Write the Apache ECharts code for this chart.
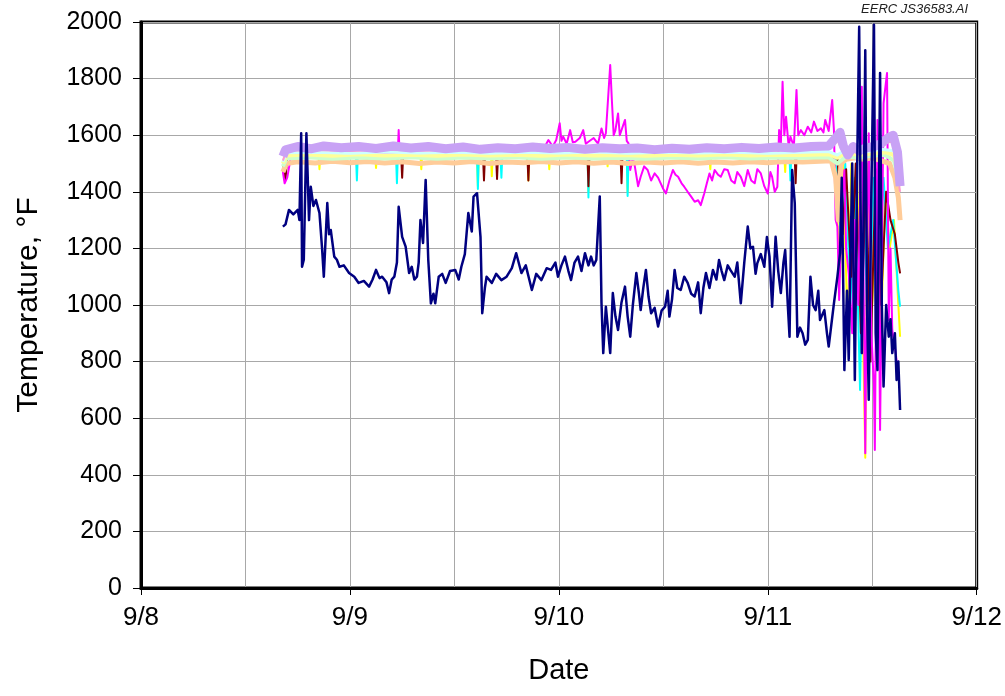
<!DOCTYPE html>
<html>
<head>
<meta charset="utf-8">
<script src="https://cdn.jsdelivr.net/npm/echarts@6/dist/echarts.min.js"></script>
<style>
html,body{margin:0;padding:0;background:#fff;}
#chart{width:1005px;height:696px;}
</style>
</head>
<body>
<div id="chart"></div>
<script>
// x values: hours since 9/8 00:00
const dayLabels = ['9/8', '9/9', '9/10', '9/11', '9/12'];
const yTicks = [0, 200, 400, 600, 800, 1000, 1200, 1400, 1600, 1800, 2000];

const navy = [[16.3,1277],[16.6,1285],[17.0,1336],[17.5,1320],[18.0,1336],[18.2,1300],[18.4,1607],[18.5,1135],[18.7,1160],[19.0,1607],[19.3,1300],[19.5,1418],[19.8,1350],[20.1,1371],[20.5,1325],[20.8,1200],[21.0,1100],[21.4,1360],[21.6,1250],[21.8,1265],[22.2,1171],[22.5,1160],[22.8,1135],[23.3,1140],[23.9,1113],[24.5,1100],[25.0,1078],[25.6,1085],[26.2,1065],[26.6,1090],[27.0,1124],[27.4,1095],[27.7,1100],[28.2,1080],[28.5,1042],[28.8,1090],[29.1,1100],[29.4,1150],[29.6,1347],[30.0,1241],[30.4,1206],[30.8,1113],[31.1,1135],[31.4,1090],[31.7,1100],[31.9,1150],[32.1,1300],[32.4,1219],[32.7,1442],[33.0,1159],[33.3,1006],[33.6,1040],[33.8,1006],[34.2,1100],[34.6,1110],[35.0,1078],[35.5,1120],[36.1,1124],[36.5,1090],[36.8,1135],[37.2,1180],[37.6,1325],[38.0,1260],[38.2,1383],[38.6,1395],[39.0,1241],[39.2,971],[39.5,1060],[39.7,1100],[40.3,1078],[40.8,1110],[41.4,1088],[42.0,1100],[42.6,1130],[43.1,1183],[43.7,1113],[44.2,1140],[44.9,1053],[45.4,1110],[46.0,1088],[46.6,1130],[47.1,1124],[47.6,1150],[47.9,1100],[48.3,1140],[48.7,1171],[49.1,1120],[49.4,1088],[49.8,1150],[50.2,1171],[50.6,1120],[51.0,1183],[51.4,1140],[51.7,1171],[52.0,1140],[52.3,1159],[52.7,1383],[52.9,1006],[53.1,830],[53.4,994],[53.9,830],[54.2,1042],[54.5,960],[54.8,912],[55.2,1010],[55.6,1065],[55.9,960],[56.2,888],[56.5,1000],[56.9,1113],[57.2,1040],[57.4,982],[57.7,1060],[58.0,1124],[58.3,1030],[58.6,971],[59.0,990],[59.4,924],[59.8,980],[60.2,994],[60.5,1050],[60.7,959],[61.0,1020],[61.3,1124],[61.6,1060],[62.0,1053],[62.4,1100],[62.8,1078],[63.2,1040],[63.6,1030],[64.0,1080],[64.3,971],[64.6,1060],[64.9,1113],[65.3,1060],[65.7,1124],[66.1,1090],[66.4,1159],[66.7,1120],[67.0,1088],[67.4,1140],[67.7,1124],[68.2,1100],[68.5,1150],[68.9,1006],[69.3,1150],[69.7,1277],[70.0,1200],[70.3,1206],[70.6,1110],[70.8,1148],[71.2,1180],[71.6,1135],[71.9,1240],[72.2,1171],[72.5,994],[72.9,1241],[73.2,1120],[73.5,1042],[73.8,1150],[74.0,1194],[74.3,1000],[74.5,888],[74.8,1477],[75.1,1360],[75.4,888],[75.7,920],[76.0,900],[76.3,860],[76.6,877],[76.9,1100],[77.2,1000],[77.5,982],[77.8,1050],[78.0,947],[78.5,982],[78.8,900],[79.0,853],[79.3,930],[79.6,1006],[80.0,1100],[80.3,1183],[80.5,1450],[80.8,770],[81.1,1050],[81.3,806],[81.7,1500],[82.0,735],[82.3,1560],[82.5,1983],[82.8,830],[83.0,1300],[83.2,1900],[83.4,1000],[83.6,665],[83.9,1400],[84.2,1990],[84.4,900],[84.6,770],[84.8,1500],[84.9,1820],[85.1,1000],[85.3,712],[85.6,1000],[85.9,888],[86.1,950],[86.3,830],[86.6,900],[86.8,735],[87.0,800],[87.2,629]];

const magenta = [[16.3,1470],[16.5,1430],[16.8,1450],[17.2,1520],[18.0,1535],[22.0,1538],[26.0,1534],[29.5,1538],[29.6,1618],[29.7,1538],[34.0,1536],[38.0,1538],[42.0,1535],[46.0,1537],[46.8,1583],[47.3,1560],[47.7,1583],[48.1,1642],[48.3,1580],[48.5,1595],[48.9,1570],[49.3,1618],[49.6,1575],[49.9,1577],[50.4,1590],[50.8,1618],[51.1,1570],[51.4,1577],[52.0,1590],[52.5,1570],[52.9,1624],[53.2,1590],[53.4,1607],[53.9,1848],[54.1,1718],[54.3,1600],[54.5,1618],[54.8,1677],[55.0,1600],[55.2,1607],[55.6,1654],[55.8,1580],[56.0,1571],[56.2,1477],[56.5,1520],[56.7,1495],[57.1,1420],[57.4,1453],[57.8,1490],[58.2,1477],[58.6,1440],[59.0,1465],[59.4,1450],[59.7,1430],[60.0,1410],[60.3,1394],[60.7,1440],[61.1,1477],[61.4,1460],[61.7,1453],[62.1,1430],[62.4,1418],[62.8,1400],[63.2,1383],[63.6,1365],[64.0,1370],[64.3,1353],[64.7,1394],[65.0,1430],[65.3,1465],[65.6,1440],[65.9,1477],[66.3,1460],[66.6,1453],[67.0,1480],[67.4,1477],[67.8,1440],[68.2,1430],[68.5,1470],[68.9,1453],[69.3,1420],[69.7,1477],[70.1,1440],[70.5,1430],[70.8,1480],[71.2,1465],[71.6,1420],[72.0,1394],[72.3,1470],[72.5,1453],[72.8,1400],[73.1,1418],[73.3,1618],[73.5,1560],[73.7,1789],[73.9,1600],[74.1,1665],[74.4,1560],[74.6,1595],[75.0,1560],[75.3,1760],[75.5,1600],[75.8,1618],[76.2,1600],[76.6,1630],[77.0,1610],[77.3,1648],[77.7,1615],[78.1,1624],[78.4,1610],[78.6,1654],[79.0,1615],[79.2,1618],[79.4,1724],[79.6,1618],[79.8,1300],[80.0,1277],[80.2,1018],[80.5,1350],[80.8,1477],[81.0,1200],[81.3,1112],[81.7,900],[82.0,1300],[82.4,1000],[82.8,1771],[83.2,476],[83.4,1200],[83.6,1607],[83.9,900],[84.2,712],[84.3,488],[84.6,1654],[84.9,558],[85.3,1713],[85.7,1820],[85.9,947],[86.1,1200],[86.3,912],[86.7,830],[87.0,747]];

const yellow = [[16.3,1500],[16.5,1440],[16.7,1520],[20.4,1530],[20.5,1480],[20.6,1530],[26.9,1530],[27.0,1484],[27.1,1530],[32.1,1530],[32.2,1480],[32.3,1530],[38.6,1530],[38.7,1420],[38.8,1530],[40.2,1530],[40.3,1455],[40.4,1530],[44.4,1530],[44.5,1440],[44.6,1530],[46.8,1530],[46.9,1480],[47.0,1530],[51.3,1530],[51.4,1400],[51.5,1530],[53.5,1530],[53.6,1490],[53.7,1530],[55.8,1530],[55.9,1400],[56.0,1530],[65.3,1530],[65.4,1480],[65.5,1530],[73.9,1530],[74.0,1470],[74.1,1530],[79.6,1530],[80.0,1300],[80.3,1100],[80.6,1520],[81.2,900],[81.6,1500],[82.2,1100],[82.6,1450],[83.2,460],[83.5,1500],[84.0,1000],[84.5,1450],[85.0,900],[85.5,1400],[86.0,1200],[86.5,1300],[87.0,1000],[87.2,888]];

const cyan = [[16.3,1490],[16.5,1450],[16.7,1520],[24.7,1525],[24.8,1440],[24.9,1525],[29.3,1525],[29.4,1430],[29.5,1525],[38.6,1525],[38.7,1410],[38.8,1525],[41.3,1525],[41.4,1450],[41.5,1525],[51.3,1525],[51.4,1380],[51.5,1525],[55.8,1525],[55.9,1385],[56.0,1525],[74.5,1525],[74.6,1440],[74.7,1525],[79.8,1525],[80.5,1200],[80.9,1500],[81.5,1000],[82.0,1450],[82.6,700],[83.0,1400],[83.5,900],[84.2,1450],[84.7,1100],[85.3,1450],[85.8,1200],[86.4,1300],[87.0,1050],[87.2,994]];

const maroon = [[16.3,1480],[16.6,1445],[16.8,1520],[29.9,1520],[30.0,1450],[30.1,1520],[39.3,1520],[39.4,1440],[39.5,1520],[40.8,1520],[40.9,1445],[41.0,1520],[44.4,1520],[44.5,1440],[44.6,1520],[51.3,1520],[51.4,1420],[51.5,1520],[55.1,1520],[55.2,1430],[55.3,1520],[75.1,1520],[75.2,1430],[75.3,1520],[80.0,1520],[80.6,1250],[81.0,1480],[81.6,1100],[82.1,1500],[82.7,900],[83.3,1450],[83.8,800],[84.4,1480],[85.0,1000],[85.6,1400],[86.1,1300],[86.6,1250],[87.0,1150],[87.2,1112]];

const tan = [[16.3,1470],[16.7,1500],[18,1506],[20,1502],[22,1508],[24,1503],[26,1507],[28,1502],[30,1506],[32,1500],[34,1505],[36,1502],[38,1507],[40,1500],[42,1505],[44,1503],[46,1507],[48,1502],[50,1506],[52,1501],[54,1505],[56,1500],[58,1505],[60,1502],[62,1506],[64,1501],[66,1505],[68,1502],[70,1506],[72,1503],[74,1507],[76,1505],[78,1508],[79.3,1510],[79.8,1450],[80.1,1300],[80.4,1500],[81.0,1515],[82,1520],[83,1515],[84,1520],[85,1510],[86,1500],[86.6,1450],[87.0,1380],[87.2,1300]];

const lightGreen = [[16.3,1490],[16.7,1518],[19,1522],[22,1517],[25,1521],[28,1518],[31,1522],[34,1517],[37,1521],[40,1518],[43,1522],[46,1517],[49,1521],[52,1518],[55,1520],[58,1517],[61,1521],[64,1518],[67,1522],[70,1518],[73,1521],[76,1520],[79,1522],[80,1500],[81,1525],[82.5,1520],[84,1528],[85.5,1530],[86.5,1510],[87.2,1420]];

const lightYellow = [[16.3,1500],[16.7,1528],[19,1532],[22,1527],[25,1533],[28,1528],[31,1531],[34,1527],[37,1532],[40,1528],[43,1531],[46,1527],[49,1532],[52,1528],[55,1530],[58,1527],[61,1531],[64,1528],[67,1532],[70,1528],[73,1531],[76,1530],[79,1533],[80,1520],[81,1540],[82.5,1530],[84,1535],[85.5,1540],[86.5,1530],[87.2,1450]];

const turquoise = [[16.3,1505],[16.7,1538],[20,1540],[24,1536],[28,1541],[32,1537],[36,1540],[40,1536],[44,1540],[48,1537],[52,1541],[56,1536],[60,1540],[64,1537],[68,1540],[72,1536],[76,1540],[79,1542],[80,1530],[81,1550],[83,1540],[85,1550],[86.5,1545],[87.2,1460]];

const rose = [[16.3,1510],[16.7,1545],[20,1548],[24,1544],[28,1549],[32,1545],[36,1548],[40,1544],[44,1548],[48,1545],[52,1549],[56,1544],[60,1548],[64,1545],[68,1548],[72,1544],[76,1549],[79,1552],[79.8,1600],[80.3,1560],[81,1540],[83,1555],[85,1565],[86.4,1580],[87.2,1400]];

const lavender = [[16.3,1525],[16.6,1548],[18,1560],[19.5,1552],[21,1562],[23,1556],[25,1560],[27,1553],[29,1562],[31,1555],[33,1560],[35,1552],[37,1558],[39,1550],[41,1556],[43,1552],[45,1558],[47,1553],[49,1557],[51,1550],[53,1556],[55,1552],[57,1555],[59,1549],[61,1554],[63,1550],[65,1556],[67,1552],[69,1557],[71,1553],[73,1558],[75,1555],[77,1560],[79,1562],[79.8,1590],[80.3,1610],[80.7,1560],[81.2,1530],[81.8,1560],[82.5,1545],[83.3,1555],[84.2,1560],[85.0,1570],[85.8,1590],[86.4,1600],[86.9,1540],[87.2,1420]];

function line(data, color, width) {
  return {type: 'line', data: data, showSymbol: false, symbol: 'none', xAxisIndex: 0,
    lineStyle: {color: color, width: width, join: 'round'}, itemStyle: {color: color}, silent: true};
}

const chart = echarts.init(document.getElementById('chart'), null, {renderer: 'canvas'});
const font = 'Arial, "Liberation Sans", sans-serif';
chart.setOption({
  animation: false,
  backgroundColor: '#fff',
  grid: {left: 141, right: 25, top: 22, bottom: 108, show: true, borderColor: '#000', borderWidth: 3, backgroundColor: 'transparent'},
  graphic: [{type: 'text', right: 37, top: 3, style: {text: 'EERC JS36583.AI', font: 'italic 13px ' + font, fill: '#222'}}],
  xAxis: [{
    type: 'value', min: 0, max: 96, interval: 24,
    name: 'Date', nameLocation: 'middle', nameGap: 68,
    nameTextStyle: {fontSize: 29, color: '#000', fontFamily: font},
    axisLine: {show: true, onZero: false, lineStyle: {color: '#000', width: 3}},
    axisTick: {show: true, length: 7, lineStyle: {color: '#000', width: 1}},
    axisLabel: {fontSize: 26, color: '#000', fontFamily: font, margin: 17,
      formatter: function (v) { return dayLabels[Math.round(v / 24)]; }},
    splitLine: {show: false}
  }, {
    type: 'value', min: 0, max: 96, interval: 12, position: 'bottom',
    axisLine: {show: false}, axisTick: {show: false}, axisLabel: {show: false},
    splitLine: {show: true, lineStyle: {color: '#a8a8a8', width: 1}}
  }],
  yAxis: {
    type: 'value', min: 0, max: 2000, interval: 200,
    name: 'Temperature, °F', nameLocation: 'middle', nameGap: 97,
    nameTextStyle: {fontSize: 30, color: '#000', fontFamily: font},
    axisLine: {show: true, lineStyle: {color: '#000', width: 3}},
    axisTick: {show: true, length: 8, lineStyle: {color: '#000', width: 1}},
    axisLabel: {fontSize: 25, color: '#000', fontFamily: font, margin: 19,
      formatter: function (v) { return yTicks.indexOf(v) >= 0 ? String(v) : ''; }},
    splitLine: {show: true, lineStyle: {color: '#a8a8a8', width: 1}}
  },
  series: [
    line(yellow, '#FFFF00', 2),
    line(cyan, '#00FFFF', 2),
    line(maroon, '#800000', 2),
    line(magenta, '#FF00FF', 2),
    line(tan, '#FFCC99', 5),
    line(lightGreen, '#CCFFCC', 4),
    line(lightYellow, '#FFFF99', 4),
    line(turquoise, '#CCFFFF', 3),
    line(rose, '#FF99CC', 2),
    line(lavender, '#C8A2F5', 9),
    line(navy, '#000080', 2.5)
  ]
});
</script>
</body>
</html>
